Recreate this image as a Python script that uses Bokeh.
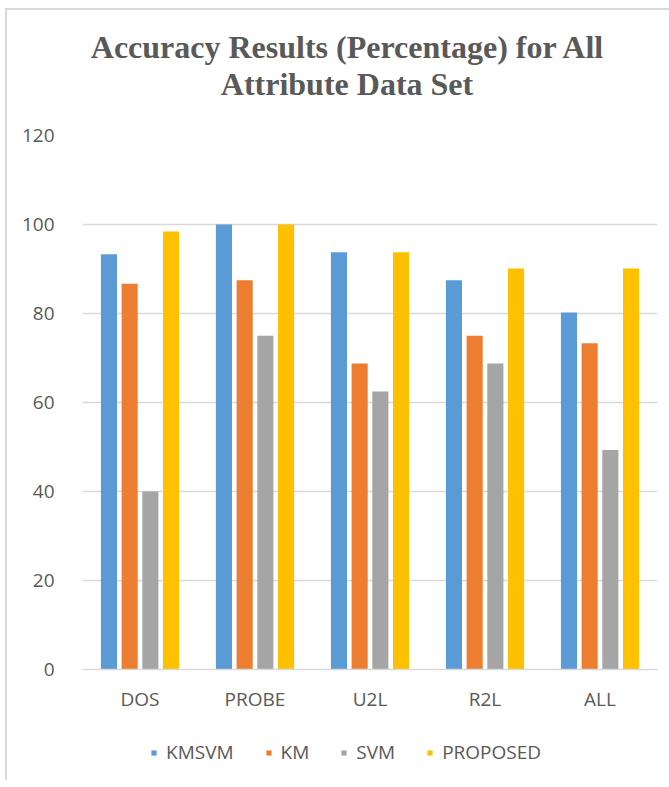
from bokeh.plotting import figure
from bokeh.models import FactorRange, Range1d, Legend, LegendItem, ColumnDataSource, Div
from bokeh.layouts import column
from bokeh.transform import dodge
from bokeh.embed import file_html
from bokeh.resources import INLINE

categories = ["DOS", "PROBE", "U2L", "R2L", "ALL"]
series_names = ["KMSVM", "KM", "SVM", "PROPOSED"]
kmsvm = [93.33, 100.0, 93.75, 87.5, 80.2]
km = [86.67, 87.5, 68.75, 75.0, 73.3]
svm = [40.0, 75.0, 62.5, 68.75, 49.3]
proposed = [98.4, 100.0, 93.75, 90.1, 90.1]
y_ticks = [0, 20, 40, 60, 80, 100, 120]
title_lines = ["Accuracy Results (Percentage) for All", "Attribute Data Set"]

colors = ["#5B9BD5", "#ED7D31", "#A5A5A5", "#FFC000"]
TXT = "#595959"
GRID = "#d9d9d9"
FONT = "Open Sans"

source = ColumnDataSource(data=dict(cat=categories, KMSVM=kmsvm, KM=km, SVM=svm, PROPOSED=proposed))

title_div = Div(
    text=('<div style="padding-top:14px;position:relative;left:10px;text-align:center;'
          'font-family:\'Liberation Serif\';font-weight:bold;font-size:32px;line-height:37px;'
          'color:%s;width:650px;">%s<br>%s</div>'
          % (TXT, title_lines[0], title_lines[1])),
    width=655, height=100)

p = figure(x_range=FactorRange(*categories, range_padding=0), y_range=Range1d(0, 120),
           frame_width=575, frame_height=534, output_backend="svg", toolbar_location=None,
           min_border_left=75, min_border_right=5, min_border_top=15,
           min_border_bottom=55, outline_line_color=None, title=None)

offsets = [-0.27, -0.09, 0.09, 0.27]
for name, off, col in zip(series_names, offsets, colors):
    p.vbar(x=dodge("cat", off, range=p.x_range), top=name, width=0.14, source=source,
           fill_color=col, line_color=None)

p.yaxis.ticker = y_ticks
p.yaxis.axis_line_color = None
p.yaxis.major_tick_line_color = None
p.yaxis.minor_tick_line_color = None
p.yaxis.major_label_standoff = 22
p.yaxis.major_label_text_font = FONT
p.yaxis.major_label_text_font_size = "19px"
p.yaxis.major_label_text_color = TXT

p.xaxis.axis_line_color = GRID
p.xaxis.axis_line_width = 1.5
p.xaxis.major_tick_line_color = None
p.xaxis.minor_tick_line_color = None
p.xaxis.major_label_standoff = 10
p.xaxis.major_label_text_font = FONT
p.xaxis.major_label_text_font_size = "19px"
p.xaxis.major_label_text_color = TXT

p.xgrid.grid_line_color = None
p.ygrid.grid_line_color = GRID
p.ygrid.grid_line_width = 1.5

# legend strip below the chart (its markers lie outside its visible range; only the legend shows)
lf = figure(width=655, height=56, x_range=FactorRange(*categories), y_range=Range1d(200, 256),
            output_backend="svg", toolbar_location=None, min_border=0,
            outline_line_color=None, title=None)
lf.axis.visible = False
lf.grid.visible = False
items = []
for name, col in zip(series_names, colors):
    r = lf.scatter(x="cat", y=name, marker="square", size=13, source=source,
                   fill_color=col, line_color=None)
    items.append(LegendItem(label=name, renderers=[r]))

legend = Legend(items=items, orientation="horizontal", location=(65, 15),
                glyph_width=13, glyph_height=13, label_standoff=6, spacing=28,
                padding=0, margin=0, label_text_font=FONT, label_text_font_size="19px",
                label_text_color=TXT, border_line_color=None, background_fill_alpha=0)
lf.add_layout(legend, "center")

layout = column(title_div, p, lf, spacing=0)
layout.styles = {"margin-left": "5px", "margin-top": "8px",
                 "border-top": "2px solid #d9d9d9", "border-left": "2px solid #d9d9d9"}

open("out.html", "w").write(file_html(layout, INLINE))
